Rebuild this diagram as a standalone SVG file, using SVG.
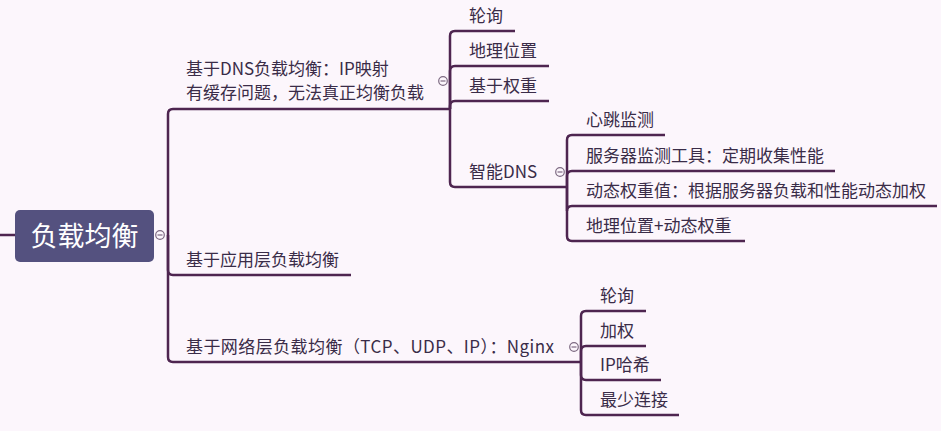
<svg xmlns="http://www.w3.org/2000/svg" width="941" height="431" viewBox="0 0 941 431">
<style>
.c{fill:none;stroke:#4e2550;stroke-width:2.5;stroke-linecap:butt}
.t{font-family:"Microsoft YaHei","Noto Sans CJK SC","Noto Sans",sans-serif;font-size:17px;fill:#3a2c48}
.r{font-family:"Microsoft YaHei","Noto Sans CJK SC","Noto Sans",sans-serif;font-size:27px;fill:#ffffff;text-anchor:middle}
.k circle{fill:#fcf6fc;stroke:#7d6a82;stroke-width:1.2}
.k line{stroke:#7d6a82;stroke-width:1.2}
</style>
<rect width="941" height="431" fill="#fcf6fc"/>
<g id="connectors">
<path class="c" d="M0,235 H15"/>
<path class="c" d="M168,235 V114 Q168,109 173,109 H450"/>
<path class="c" d="M168,235 V270 Q168,275 173,275 H351"/>
<path class="c" d="M168,235 V357 Q168,362 173,362 H581"/>
<path class="c" d="M450,109 V36 Q450,31 455,31 H515"/>
<path class="c" d="M450,109 V71 Q450,66 455,66 H549"/>
<path class="c" d="M450,109 V106 Q450,101 455,101 H549"/>
<path class="c" d="M450,109 V182 Q450,187 455,187 H567"/>
<path class="c" d="M567,187 V140 Q567,135 572,135 H665"/>
<path class="c" d="M567,187 V176 Q567,171 572,171 H835"/>
<path class="c" d="M567,187 V211 Q567,206 572,206 H937"/>
<path class="c" d="M567,187 V236 Q567,241 572,241 H745"/>
<path class="c" d="M581,362 V316 Q581,311 586,311 H646"/>
<path class="c" d="M581,362 V351 Q581,346 586,346 H646"/>
<path class="c" d="M581,362 V375 Q581,380 586,380 H661"/>
<path class="c" d="M581,362 V410 Q581,415 586,415 H679"/>
</g>
<g class="k">
<g><circle cx="160" cy="235" r="4.3"/><line x1="157.5" y1="235" x2="162.5" y2="235"/></g>
<g><circle cx="443" cy="81" r="4.3"/><line x1="440.5" y1="81" x2="445.5" y2="81"/></g>
<g><circle cx="560" cy="172" r="4.3"/><line x1="557.5" y1="172" x2="562.5" y2="172"/></g>
<g><circle cx="574" cy="347" r="4.3"/><line x1="571.5" y1="347" x2="576.5" y2="347"/></g>
</g>
<g id="root">
<rect x="15" y="210" width="139" height="52" rx="5" fill="#54517f"/>
<text class="r" x="84.5" y="246">负载均衡</text>
</g>
<g id="dns"><text class="t" x="186" y="75">基于DNS负载均衡：IP映射</text><text class="t" x="186" y="99">有缓存问题，无法真正均衡负载</text></g>
<g id="dns-rr"><text class="t" x="469" y="22">轮询</text></g>
<g id="dns-geo"><text class="t" x="469" y="57">地理位置</text></g>
<g id="dns-weight"><text class="t" x="469" y="92">基于权重</text></g>
<g id="smart-dns"><text class="t" x="469" y="178">智能DNS</text></g>
<g id="heartbeat"><text class="t" x="586" y="126">心跳监测</text></g>
<g id="monitor"><text class="t" x="586" y="162">服务器监测工具：定期收集性能</text></g>
<g id="dyn-weight"><text class="t" x="586" y="197">动态权重值：根据服务器负载和性能动态加权</text></g>
<g id="geo-dyn"><text class="t" x="586" y="232">地理位置+动态权重</text></g>
<g id="app"><text class="t" x="186" y="266">基于应用层负载均衡</text></g>
<g id="net"><text class="t" x="186" y="353" textLength="368" lengthAdjust="spacing">基于网络层负载均衡（TCP、UDP、IP）：Nginx</text></g>
<g id="net-rr"><text class="t" x="600" y="302">轮询</text></g>
<g id="net-weight"><text class="t" x="600" y="337">加权</text></g>
<g id="net-hash"><text class="t" x="600" y="371">IP哈希</text></g>
<g id="net-least"><text class="t" x="600" y="406">最少连接</text></g>
</svg>
